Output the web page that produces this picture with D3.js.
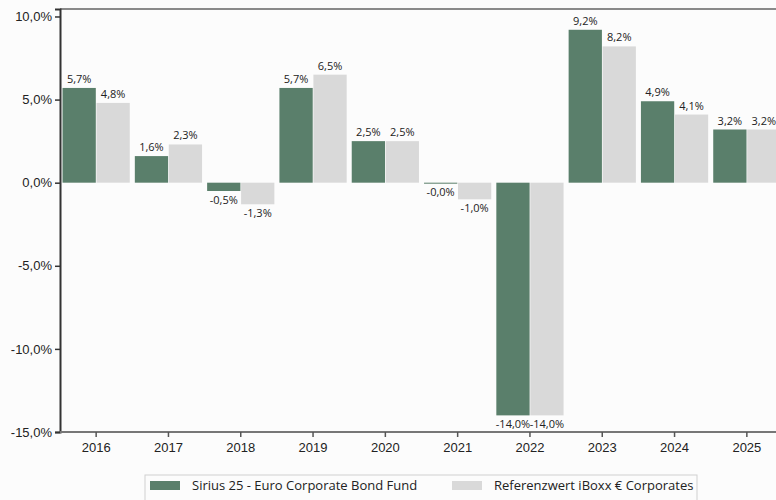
<!DOCTYPE html>
<html lang="de">
<head>
    <meta charset="UTF-8">
    <title>Jährliche Wertentwicklung</title>
    <script src="https://d3js.org/d3.v7.min.js"></script>
    <style>
        body { margin: 0; background: #fcfcfc; font-family: "Open Sans", "Noto Sans", sans-serif; }
        .tick text { font-size: 13px; fill: #222; }
        .value-label { font-size: 11px; fill: #222; }
        .legend-text { font-size: 13px; fill: #222; }
    </style>
</head>
<body>
    <div id="chart"></div>
    <script>
        // Daten
        const years = ['2016', '2017', '2018', '2019', '2020', '2021', '2022', '2023', '2024', '2025'];
        const fund = [5.7, 1.6, -0.5, 5.7, 2.5, -0.04, -14.0, 9.2, 4.9, 3.2];
        const bench = [4.8, 2.3, -1.3, 6.5, 2.5, -1.0, -14.0, 8.2, 4.1, 3.2];
        const seriesNames = ['Sirius 25 - Euro Corporate Bond Fund', 'Referenzwert iBoxx € Corporates'];
        const colors = ['#5a7f6b', '#d9d9d9'];
        const yTicks = [-15, -10, -5, 0, 5, 10];

        const width = 776, height = 500;
        const margin = { top: 9, right: -7, bottom: 68, left: 60 };

        const de = d3.formatLocale({ decimal: ',', thousands: '.', grouping: [3], currency: ['', '€'] });
        // Minuszeichen als Bindestrich, auch bei -0,0%
        const fmt = v => (v < 0 ? '-' : '') + de.format('.1f')(Math.abs(v)) + '%';

        const svg = d3.select('#chart').append('svg')
            .attr('width', width)
            .attr('height', height);

        const x = d3.scaleBand()
            .domain(years)
            .range([margin.left, width - margin.right])
            .paddingInner(0.07)
            .paddingOuter(0.035);

        const x1 = d3.scaleBand()
            .domain([0, 1])
            .range([0, x.bandwidth()])
            .paddingInner(0.02);

        const y = d3.scaleLinear()
            .domain([-15, 10.45])
            .range([height - margin.bottom, margin.top]);

        // Balken
        const rows = years.map((yr, i) => ({ year: yr, vals: [fund[i], bench[i]] }));

        const groups = svg.append('g')
            .selectAll('g')
            .data(rows)
            .enter().append('g')
            .attr('transform', d => `translate(${x(d.year)},0)`);

        groups.selectAll('rect')
            .data(d => d.vals.map((v, k) => ({ v, k })))
            .enter().append('rect')
            .attr('x', d => x1(d.k))
            .attr('width', x1.bandwidth())
            .attr('y', d => y(Math.max(0, d.v)))
            .attr('height', d => Math.max(1, Math.abs(y(d.v) - y(0))))
            .attr('fill', d => colors[d.k]);

        groups.selectAll('text')
            .data(d => d.vals.map((v, k) => ({ v, k })))
            .enter().append('text')
            .attr('class', 'value-label')
            .attr('text-anchor', 'middle')
            .attr('x', d => x1(d.k) + x1.bandwidth() / 2)
            .attr('y', d => d.v >= 0 ? y(d.v) - 5 : y(d.v) + 13)
            .text(d => fmt(d.v));

        // obere Rahmenlinie
        svg.append('line')
            .attr('x1', margin.left).attr('x2', width)
            .attr('y1', margin.top).attr('y2', margin.top)
            .attr('stroke', '#8a8a8a').attr('stroke-width', 2);

        // y-Achse
        const yAxis = svg.append('g')
            .attr('transform', `translate(${margin.left},0)`)
            .call(d3.axisLeft(y).tickValues(yTicks).tickSize(5).tickFormat(fmt));
        yAxis.select('.domain').attr('stroke', '#333').attr('stroke-width', 2);
        yAxis.selectAll('.tick line').attr('stroke', '#333').attr('stroke-width', 1.5);
        yAxis.selectAll('.tick text').attr('x', -8);

        // x-Achse
        const xAxis = svg.append('g')
            .attr('transform', `translate(0,${height - margin.bottom})`)
            .call(d3.axisBottom(x).tickSize(5).tickSizeOuter(0));
        xAxis.select('.domain').attr('stroke', '#777').attr('stroke-width', 2)
            .attr('d', `M${margin.left},0H${width}`);
        xAxis.selectAll('.tick line').attr('stroke', '#555').attr('stroke-width', 1.5);
        xAxis.selectAll('.tick text').attr('y', 11);

        // Legende
        const legend = svg.append('g').attr('transform', 'translate(145,475)');
        legend.append('rect')
            .attr('width', 552).attr('height', 26)
            .attr('fill', '#fcfcfc').attr('stroke', '#d0d0d0');
        const legendX = [5, 307];
        seriesNames.forEach((name, i) => {
            legend.append('rect')
                .attr('x', legendX[i]).attr('y', 6)
                .attr('width', 30).attr('height', 9)
                .attr('fill', colors[i]);
            legend.append('text')
                .attr('class', 'legend-text')
                .attr('x', legendX[i] + 42).attr('y', 15)
                .text(name);
        });
    </script>
</body>
</html>
